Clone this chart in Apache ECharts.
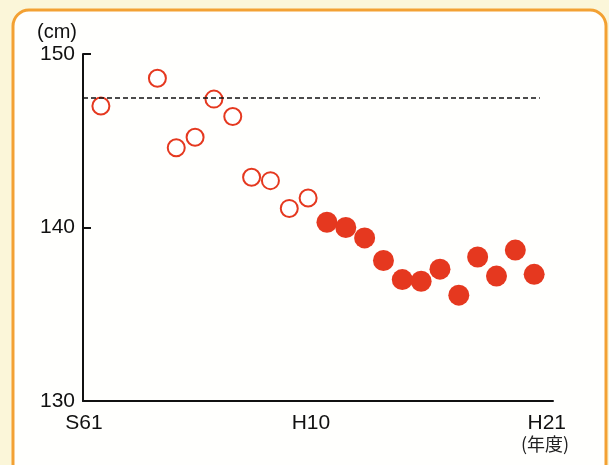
<!DOCTYPE html>
<html>
<head>
<meta charset="utf-8">
<script src="https://cdn.jsdelivr.net/npm/echarts@6/dist/echarts.min.js"></script>
<style>
html,body{margin:0;padding:0;background:#fbf6d9;}
#c{width:609px;height:465px;}
</style>
</head>
<body>
<div id="c"></div>
<script>
// Data (year, average value in cm)
const openYears   = [1986, 1989, 1990, 1991, 1992, 1993, 1994, 1995, 1996, 1997];
const openValues  = [147.0, 148.6, 144.6, 145.2, 147.4, 146.4, 142.9, 142.7, 141.1, 141.7];
const filledYears = [1998, 1999, 2000, 2001, 2002, 2003, 2004, 2005, 2006, 2007, 2008, 2009];
const filledValues= [140.3, 140.0, 139.4, 138.1, 137.0, 136.9, 137.6, 136.1, 138.3, 137.2, 138.7, 137.3];
const referenceValue = 147.5;
const xTickLabels = ['S61', 'H10', 'H21'];
const yUnit = '(cm)';
const xUnit = '(年度)';

const openData = openYears.map((y, i) => [y, openValues[i]]);
const filledData = filledYears.map((y, i) => [y, filledValues[i]]);

const xLabelAt = [1985.1, 1997.15, 2009.67];
const red = '#e5381f';
const font = 'Liberation Sans, Arial, sans-serif';

const chart = echarts.init(document.getElementById('c'), null, {renderer: 'canvas'});
chart.setOption({
  backgroundColor: '#fbf6d9',
  animation: false,
  graphic: [{
    type: 'rect', z: -10, silent: true,
    shape: {x: 13, y: 10, width: 593, height: 470, r: 16},
    style: {fill: '#fffffd', stroke: '#f3a133', lineWidth: 3}
  }],
  grid: {left: 83, top: 54, right: 56, bottom: 64, containLabel: false},
  xAxis: {
    type: 'value', min: 1985.05, max: 2010,
    splitLine: {show: false},
    axisLine: {show: true, lineStyle: {color: '#111', width: 2}},
    axisTick: {show: false},
    axisLabel: {
      show: true, customValues: xLabelAt, margin: 12,
      color: '#111', fontSize: 21, fontFamily: font,
      formatter: function (v) {
        let best = 0;
        for (let i = 1; i < xLabelAt.length; i++) {
          if (Math.abs(xLabelAt[i] - v) < Math.abs(xLabelAt[best] - v)) best = i;
        }
        return xTickLabels[best];
      }
    },
    name: xUnit, nameLocation: 'end', nameGap: -8,
    nameTextStyle: {
      color: '#222', fontSize: 18, fontFamily: 'Noto Sans CJK JP, sans-serif',
      align: 'center', verticalAlign: 'top', padding: [34, 0, 0, 0]
    }
  },
  yAxis: {
    type: 'value', min: 130, max: 150, interval: 10,
    splitLine: {show: false},
    axisLine: {show: true, lineStyle: {color: '#111', width: 2}},
    axisTick: {show: true, inside: true, length: 8, lineStyle: {color: '#111', width: 2}},
    axisLabel: {
      color: '#111', fontSize: 21, fontFamily: font, margin: 8
    },
    name: yUnit, nameLocation: 'end', nameGap: 22,
    nameTextStyle: {
      color: '#111', fontSize: 20, fontFamily: font,
      align: 'right', verticalAlign: 'middle', padding: [0, 6, 0, 0]
    }
  },
  series: [
    {
      type: 'scatter', name: 'open', data: openData,
      symbol: 'circle', symbolSize: 17,
      itemStyle: {color: '#ffffff', borderColor: red, borderWidth: 2, opacity: 1},
      markLine: {
        silent: true, symbol: 'none', label: {show: false},
        lineStyle: {color: '#111', type: [5, 3], width: 1.5},
        data: [[{coord: [1985.05, referenceValue]}, {coord: [2009.3, referenceValue]}]]
      },
      z: 3
    },
    {
      type: 'scatter', name: 'filled', data: filledData,
      symbol: 'circle', symbolSize: 21,
      itemStyle: {color: red, opacity: 1},
      z: 4
    }
  ]
});
</script>
</body>
</html>
